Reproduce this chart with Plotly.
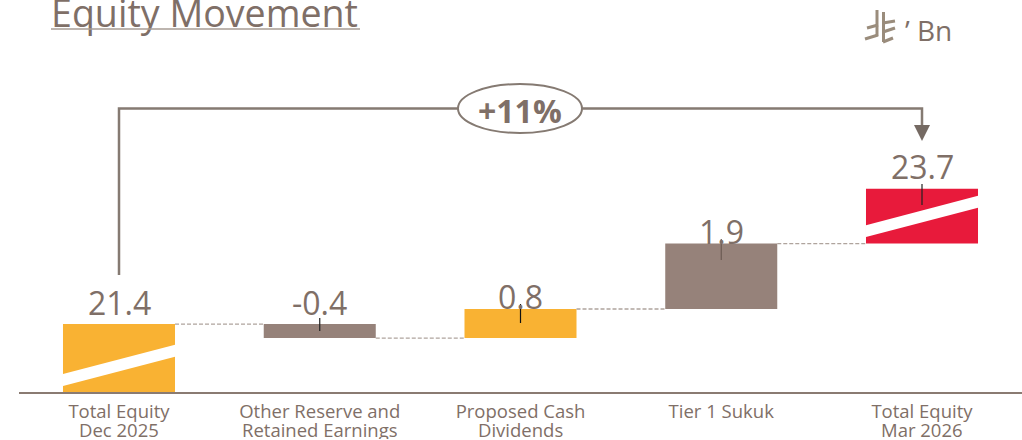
import plotly.graph_objects as go

categories = ["Total Equity", "Other Reserve and", "Proposed Cash", "Tier 1 Sukuk", "Total Equity"]
categories_line2 = ["Dec 2025", "Retained Earnings", "Dividends", "", "Mar 2026"]
value_labels = ["21.4", "-0.4", "0.8", "1.9", "23.7"]
bar_bottom = [19.46, 21.0, 21.0, 21.83, 23.7]
bar_top = [21.4, 21.4, 21.83, 23.7, 25.27]
bar_colors = ["#F9B233", "#96827A", "#F9B233", "#96827A", "#E81A3B"]
connector_levels = [21.4, 21.0, 21.83, 23.7]
growth_label = "+11%"
title_text = "Equity Movement"
unit_text = "\u2019 Bn"

W, H = 1022, 440
L, B = 19, 48
PW, PH = W - L, H - B
TXT = "#7F6F67"
LINE = "#857A72"
FONT = "Open Sans, Noto Sans, sans-serif"
BAR_W = 0.558
SPACING = 200.75
PX_PER_UNIT = 35.0
xr = [(L - 119) / SPACING, (W - 119) / SPACING]
y0 = 19.46
yr = [y0, y0 + PH / PX_PER_UNIT]
xs = list(range(len(categories)))

def py(p):
    return y0 + (H - B - p) / PX_PER_UNIT
def px(p):
    return xr[0] + (p - L) / SPACING
def ppaper(p):
    return (H - B - p) / PH

fig = go.Figure()
fig.add_trace(go.Bar(x=xs, y=[t - b for t, b in zip(bar_top, bar_bottom)], base=bar_bottom,
                     width=BAR_W, marker=dict(color=bar_colors, line_width=0), hoverinfo="skip"))

# dashed connectors
for i, lvl in enumerate(connector_levels):
    fig.add_trace(go.Scatter(x=[i + BAR_W / 2, i + 1 - BAR_W / 2], y=[lvl, lvl], mode="lines",
                             line=dict(color="#AFA49D", width=1.4, dash="4px,2px"), hoverinfo="skip"))

# title
fig.add_trace(go.Scatter(x=[px(51)], y=[py(18)], mode="text", text=[title_text],
                         textposition="middle right", cliponaxis=False, hoverinfo="skip",
                         textfont=dict(family=FONT, size=37.6, color=TXT)))

shapes = []
# white slanted stripes on the total bars
for i, (tl, bl, tr, br) in {0: (374, 386, 344.7, 356.7), 4: (225.3, 237, 195.7, 207.7)}.items():
    a, b = i - BAR_W / 2, i + BAR_W / 2
    shapes.append(dict(type="path", xref="x", yref="y", fillcolor="white", line_width=0,
                       path=f"M{a},{py(tl)} L{b},{py(tr)} L{b},{py(br)} L{a},{py(bl)} Z"))
# small marks on bars
for i, (p1, p2, c) in {1: (318, 331, "#222"), 2: (304, 323, "#111"), 3: (239, 260, "#6b5a52"), 4: (184, 205, "#222")}.items():
    shapes.append(dict(type="line", xref="x", yref="y", x0=i, x1=i, y0=py(p1), y1=py(p2),
                       line=dict(color=c, width=1.2)))
# bracket
shapes.append(dict(type="path", xref="x", yref="y", line=dict(color=LINE, width=2.5),
                   path=f"M0,{py(275)} L0,{py(108.5)} L4,{py(108.5)} L4,{py(127)}"))
shapes.append(dict(type="path", xref="x", yref="y", fillcolor="#756A63", line_width=0,
                   path=f"M{px(914)},{py(125)} L{px(930)},{py(125)} L{px(922)},{py(141)} Z"))
# ellipse
shapes.append(dict(type="circle", xref="x", yref="y", x0=px(458), x1=px(582), y0=py(133), y1=py(84),
                   fillcolor="white", line=dict(color=LINE, width=2)))
# title underline
shapes.append(dict(type="line", xref="x", yref="y", x0=px(51), x1=px(360), y0=py(29), y1=py(29),
                   line=dict(color="#A79C95", width=1.5)))
# currency sign strokes
for seg in [((877, 10), (877, 36)), ((883.5, 12), (883.5, 42)), ((865, 39), (878, 35)), ((867, 28), (878, 25)),
            ((883, 23), (895, 21)), ((883, 32), (895, 28)), ((883, 42), (893, 38))]:
    (a, b), (c, d) = seg
    shapes.append(dict(type="line", xref="x", yref="y", x0=px(a), x1=px(c), y0=py(b), y1=py(d),
                       line=dict(color="#9A8C7C", width=3)))

annotations = []
label_y = [302.5, 302.5, 296.5, 231.5, 166]
for i, (t, p) in enumerate(zip(value_labels, label_y)):
    annotations.append(dict(x=i, y=py(p), xref="x", yref="y", text=t, showarrow=False,
                            font=dict(family=FONT, size=32, color=TXT)))
for i, t in enumerate(categories_line2):
    if t:
        annotations.append(dict(x=i, y=ppaper(429), xref="x", yref="paper", yanchor="middle", height=20, borderpad=0,
                                text=t, showarrow=False, font=dict(family=FONT, size=18.5, color=TXT)))
annotations.append(dict(x=px(520), y=py(110), xref="x", yref="y", text=f"<b>{growth_label}</b>", showarrow=False,
                        font=dict(family=FONT, size=32, color=TXT)))
annotations.append(dict(x=px(903), y=py(30), xref="x", yref="y", xanchor="left", text=unit_text, showarrow=False,
                        font=dict(family=FONT, size=28, color=TXT)))

fig.update_layout(
    width=W, height=H, autosize=False, showlegend=False,
    margin=dict(l=L, r=0, t=0, b=B), paper_bgcolor="white", plot_bgcolor="white",
    shapes=shapes, annotations=annotations,
    xaxis=dict(range=xr, tickmode="array", tickvals=xs, ticktext=categories, showgrid=False, zeroline=False,
               showline=True, linecolor="#8A7B72", linewidth=2, ticks="", ticklen=0, ticklabelstandoff=2,
               tickfont=dict(family=FONT, size=18.5, color=TXT), fixedrange=True),
    yaxis=dict(range=yr, visible=False, showgrid=False, zeroline=False, fixedrange=True),
)
fig.write_html("out.html", config={"displayModeBar": False},
               post_script="document.body.style.margin='0';document.documentElement.style.overflow='hidden';")
